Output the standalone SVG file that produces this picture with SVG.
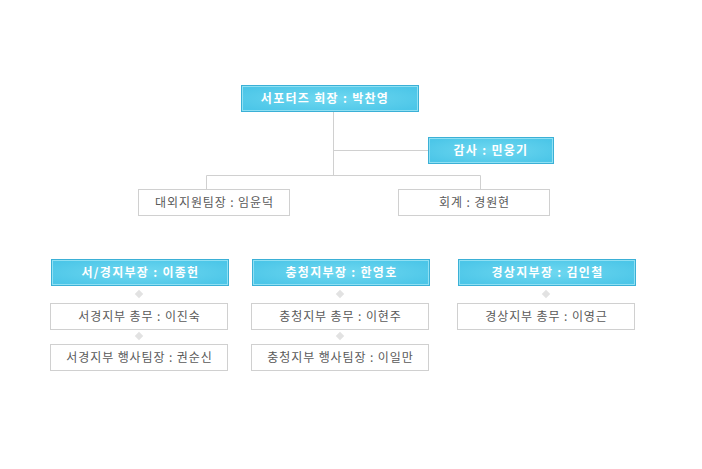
<svg xmlns="http://www.w3.org/2000/svg" width="702" height="469" viewBox="0 0 702 469">
<defs>
<radialGradient id="bg" cx="0.5" cy="0.5" r="0.6">
<stop offset="0" stop-color="#6fd8f0"/>
<stop offset="1" stop-color="#4cc6e8"/>
</radialGradient>
<style>
.b rect.o{fill:url(#bg);stroke:#3bb0d6;stroke-width:1}
.b rect.i{fill:none;stroke:#8fe0f3;stroke-width:1}
.b text{fill:#fff;font-family:"Noto Sans CJK KR","Noto Sans",sans-serif;font-size:12px;font-weight:bold;text-anchor:middle;letter-spacing:1.3px}
.w rect{fill:#fff;stroke:#d0d0d0;stroke-width:1}
.w text{fill:#5a5a5a;font-family:"Noto Sans CJK KR","Noto Sans",sans-serif;font-size:12px;text-anchor:middle;letter-spacing:0.9px}
.c line{stroke:#d0d0d0;stroke-width:1}
.d{fill:#e2e2e2}
</style>
</defs>
<rect width="702" height="469" fill="#fff"/>
<g id="connectors" class="c">
<line x1="333.5" y1="112" x2="333.5" y2="175.5"/>
<line x1="333.5" y1="150.5" x2="428" y2="150.5"/>
<line x1="206.5" y1="175.5" x2="480.5" y2="175.5"/>
<line x1="206.5" y1="175.5" x2="206.5" y2="189"/>
<line x1="480.5" y1="175.5" x2="480.5" y2="189"/>
<rect class="d" x="136" y="291" width="6" height="6" transform="rotate(45 139 294)"/>
<rect class="d" x="136" y="333" width="6" height="6" transform="rotate(45 139 336)"/>
<rect class="d" x="337" y="291" width="6" height="6" transform="rotate(45 340 294)"/>
<rect class="d" x="337" y="333" width="6" height="6" transform="rotate(45 340 336)"/>
<rect class="d" x="543" y="291" width="6" height="6" transform="rotate(45 546 294)"/>
</g>
<g id="president" class="b">
<rect class="o" x="241.5" y="85.5" width="177" height="26"/>
<rect class="i" x="242.5" y="86.5" width="175" height="24"/>
<text x="325" y="103">서포터즈 회장 : 박찬영</text>
</g>
<g id="auditor" class="b">
<rect class="o" x="428.5" y="137.5" width="125" height="26"/>
<rect class="i" x="429.5" y="138.5" width="123" height="24"/>
<text x="491" y="155">감사 : 민웅기</text>
</g>
<g id="external" class="w">
<rect x="138.5" y="189.5" width="151" height="26"/>
<text x="214.5" y="207">대외지원팀장 : 임윤덕</text>
</g>
<g id="accounting" class="w">
<rect x="398.5" y="189.5" width="151" height="26"/>
<text x="474.5" y="207">회계 : 경원현</text>
</g>
<g id="seogyeong" class="b">
<rect class="o" x="51.5" y="259.5" width="177" height="26"/>
<rect class="i" x="52.5" y="260.5" width="175" height="24"/>
<text x="140.5" y="277">서/경지부장 : 이종헌</text>
</g>
<g id="seogyeong-1" class="w">
<rect x="50.5" y="303.5" width="177" height="26"/>
<text x="139.5" y="321">서경지부 총무 : 이진숙</text>
</g>
<g id="seogyeong-2" class="w">
<rect x="50.5" y="344.5" width="177" height="26"/>
<text x="139.5" y="362">서경지부 행사팀장 : 권순신</text>
</g>
<g id="chungcheong" class="b">
<rect class="o" x="252.5" y="259.5" width="177" height="26"/>
<rect class="i" x="253.5" y="260.5" width="175" height="24"/>
<text x="341.5" y="277">충청지부장 : 한영호</text>
</g>
<g id="chungcheong-1" class="w">
<rect x="251.5" y="303.5" width="177" height="26"/>
<text x="340.5" y="321">충청지부 총무 : 이현주</text>
</g>
<g id="chungcheong-2" class="w">
<rect x="251.5" y="344.5" width="177" height="26"/>
<text x="340.5" y="362">충청지부 행사팀장 : 이일만</text>
</g>
<g id="gyeongsang" class="b">
<rect class="o" x="458.5" y="259.5" width="177" height="26"/>
<rect class="i" x="459.5" y="260.5" width="175" height="24"/>
<text x="547.5" y="277">경상지부장 : 김인철</text>
</g>
<g id="gyeongsang-1" class="w">
<rect x="457.5" y="303.5" width="177" height="26"/>
<text x="546.5" y="321">경상지부 총무 : 이영근</text>
</g>
</svg>
